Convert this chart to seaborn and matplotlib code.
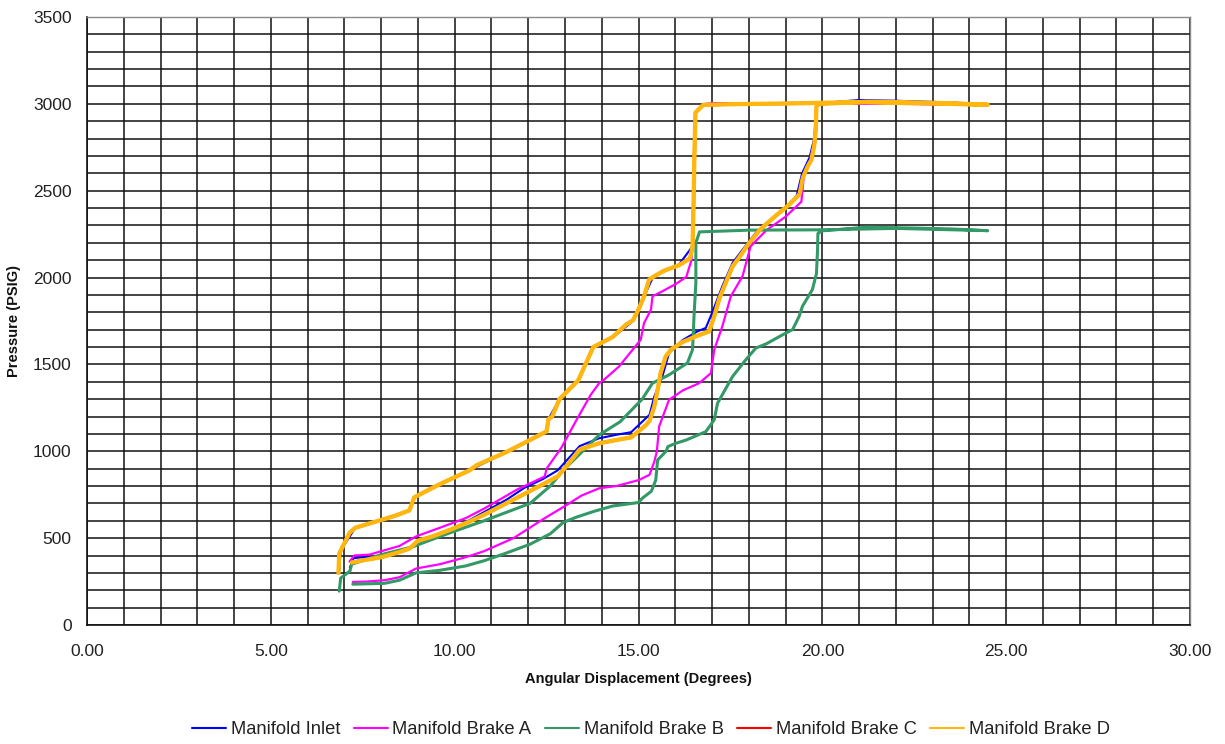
import numpy as np
import pandas as pd
import matplotlib
matplotlib.use("Agg")
import matplotlib.pyplot as plt
import seaborn as sns
from matplotlib.ticker import MultipleLocator, FormatStrFormatter

# ---- Pressure vs. angular displacement traces (loading -> hold -> unloading) ----
inlet_deg = [7.15, 7.25, 7.6, 8.0, 8.4, 8.8, 9.2, 9.6, 10.2, 10.8, 11.4, 11.9, 12.4, 12.8,
             13.1, 13.4, 13.93, 14.4, 14.8, 15.2, 15.3, 15.43, 15.65, 15.83, 16.2, 16.6,
             16.83, 17.0, 17.28, 17.56, 17.83, 18.2, 18.6, 19.0, 19.3, 19.45, 19.65, 19.78,
             19.84, 20.0, 21.0, 22.0, 23.5, 24.5, 22.0, 19.0, 16.8, 16.55, 16.5, 16.47,
             16.1, 15.4, 15.15, 14.85, 14.3, 13.77, 13.36, 12.85, 12.55, 12.5, 11.4, 10.4,
             9.59, 8.9, 8.77, 7.77, 7.3, 6.9, 6.86]
inlet_psi = [330, 385, 392, 392, 420, 445, 480, 520, 580, 650, 720, 790, 840, 890,
             960, 1030, 1075, 1095, 1110, 1190, 1210, 1315, 1431, 1565, 1640, 1690,
             1710, 1796, 1950, 2085, 2160, 2260, 2330, 2400, 2470, 2600, 2690, 2800,
             2990, 3005, 3022, 3018, 3008, 2998, 3008, 3003, 2998, 2950, 2450, 2180,
             2075, 2005, 1890, 1750, 1655, 1600, 1410, 1300, 1185, 1115, 995, 890,
             810, 735, 660, 590, 560, 430, 320]

brake_a_deg = [7.23, 7.6, 8.1, 8.5, 8.95, 9.6, 10.3, 10.8, 11.6, 12.45, 13.0, 13.45, 13.93,
               14.4, 15.02, 15.3, 15.43, 15.5, 15.56, 15.83, 16.2, 16.65, 16.97, 17.06,
               17.28, 17.51, 17.83, 18.0, 18.05, 18.48, 19.0, 19.43, 19.5, 19.7, 19.8,
               19.84, 20.0, 21.0, 22.5, 24.4, 22.0, 19.0, 17.0, 16.76, 16.55, 16.5, 16.47,
               16.44, 16.3, 16.03, 15.65, 15.38, 15.34, 15.15, 15.06, 14.47, 14.04, 13.93,
               13.7, 13.3, 12.9, 12.5, 12.45, 11.7, 10.8, 10.3, 9.6, 8.95, 8.5, 7.68,
               7.27, 7.14]
brake_a_psi = [248, 250, 258, 275, 325, 350, 390, 425, 500, 615, 685, 745, 787,
               800, 835, 865, 940, 1000, 1142, 1296, 1350, 1392, 1450, 1585,
               1719, 1892, 2008, 2142, 2180, 2273, 2350, 2437, 2590, 2680, 2800,
               2985, 3000, 3003, 3000, 2995, 3000, 3004, 3004, 2998, 2950, 2450, 2200,
               2100, 2004, 1965, 1921, 1892, 1815, 1738, 1642, 1488, 1408, 1392,
               1325, 1175, 1020, 900, 855, 780, 670, 615, 560, 510, 455, 405,
               400, 365]

brake_b_deg = [7.23, 7.6, 8.1, 8.5, 8.95, 9.6, 10.3, 10.8, 11.35, 12.05, 12.6, 12.95, 13.3,
               13.8, 14.3, 15.0, 15.1, 15.35, 15.47, 15.52, 15.75, 15.8, 16.0, 16.3, 16.83,
               17.06, 17.15, 17.56, 17.92, 18.19, 18.48, 19.0, 19.19, 19.37, 19.46, 19.73,
               19.84, 19.87, 19.88, 20.0, 21.2, 22.5, 23.5, 24.5, 22.0, 20.0, 18.0, 16.66,
               16.56, 16.56, 16.51, 16.47, 16.33, 15.83, 15.38, 15.1, 14.5, 13.93, 12.95,
               12.6, 12.05, 10.8, 9.8, 8.85, 8.0, 7.2, 7.15, 6.9, 6.86]
brake_b_psi = [235, 237, 240, 258, 300, 315, 340, 370, 410, 465, 525, 590, 620,
               655, 685, 705, 729, 770, 835, 950, 1000, 1027, 1045, 1065, 1113,
               1181, 1277, 1431, 1527, 1594, 1619, 1680, 1700, 1777, 1835, 1931,
               2023, 2160, 2254, 2269, 2290, 2285, 2280, 2270, 2283, 2275, 2273, 2263,
               2200, 1969, 1777, 1585, 1508, 1440, 1392, 1300, 1170, 1094, 890,
               800, 700, 600, 525, 450, 405, 350, 310, 270, 195]

brake_d_deg = [7.2, 7.5, 8.0, 8.5, 8.77, 9.0, 9.4, 9.9, 10.4, 10.8, 11.4, 11.9, 12.4, 12.8,
               13.1, 13.4, 13.93, 14.4, 14.8, 15.2, 15.3, 15.43, 15.52, 15.6, 15.74, 15.88,
               16.2, 16.6, 16.92, 17.06, 17.2, 17.37, 17.56, 17.75, 17.98, 18.3, 18.7, 19.1,
               19.38, 19.47, 19.6, 19.7, 19.78, 19.82, 19.84, 19.9, 20.5, 21.2, 22.5, 23.5,
               24.5, 23.0, 21.0, 19.0, 17.5, 16.76, 16.55, 16.52, 16.5, 16.47, 16.4, 16.1,
               15.7, 15.4, 15.29, 15.15, 15.02, 14.85, 14.66, 14.3, 13.77, 13.36, 12.85,
               12.65, 12.55, 12.5, 12.14, 11.4, 10.6, 10.4, 9.59, 8.9, 8.77, 8.4, 7.77,
               7.3, 7.14, 6.95, 6.86, 6.84]
brake_d_psi = [360, 372, 390, 420, 440, 485, 510, 550, 595, 635, 700, 755, 810, 855,
               930, 1010, 1046, 1065, 1080, 1150, 1175, 1258, 1354, 1450, 1546, 1585,
               1629, 1665, 1690, 1777, 1880, 1969, 2065, 2120, 2190, 2275, 2350, 2420,
               2480, 2575, 2640, 2677, 2760, 2850, 2985, 3000, 3005, 3012, 3008, 3003,
               2995, 3002, 3010, 3002, 2998, 2994, 2950, 2700, 2450, 2177, 2110, 2071,
               2040, 2004, 1988, 1892, 1825, 1754, 1729, 1658, 1600, 1408, 1300,
               1200, 1185, 1115, 1075, 995, 920, 890, 810, 735, 660, 630, 590,
               560, 530, 450, 410, 300]

# Brake C trace coincides with Brake D and sits underneath it
brake_c_deg = list(brake_d_deg)
brake_c_psi = list(brake_d_psi)

series_names = ["Manifold Inlet", "Manifold Brake A", "Manifold Brake B",
                "Manifold Brake C", "Manifold Brake D"]
series_deg = [inlet_deg, brake_a_deg, brake_b_deg, brake_c_deg, brake_d_deg]
series_psi = [inlet_psi, brake_a_psi, brake_b_psi, brake_c_psi, brake_d_psi]
series_colors = ["#0000FF", "#FF00FF", "#339966", "#FF0000", "#FFB60F"]
series_widths = [1.5, 1.6, 2.2, 2.3, 3.1]

x_ticks = [0, 5, 10, 15, 20, 25, 30]
y_ticks = [0, 500, 1000, 1500, 2000, 2500, 3000, 3500]

frames = []
for name, d, p in zip(series_names, series_deg, series_psi):
    frames.append(pd.DataFrame({"series": name, "step": np.arange(len(d)),
                                "deg": d, "psi": p}))
df = pd.concat(frames, ignore_index=True)

# ---- Figure ----
sns.set_style("white")
plt.rcParams["font.family"] = ["Liberation Sans", "DejaVu Sans"]

fig = plt.figure(figsize=(12.25, 7.44), dpi=100)
ax = fig.add_axes([87 / 1225, 1 - 625 / 744, (1190 - 87) / 1225, (625 - 17) / 744])

for name, color, lw in zip(series_names, series_colors, series_widths):
    sub = df[df["series"] == name]
    sns.lineplot(data=sub, x="deg", y="psi", sort=False, estimator=None,
                 color=color, linewidth=lw, label=name, ax=ax,
                 solid_capstyle="round", solid_joinstyle="round", legend=False)

ax.set_xlim(0, 30)
ax.set_ylim(0, 3500)
ax.set_xticks(x_ticks)
ax.set_yticks(y_ticks)
ax.xaxis.set_minor_locator(MultipleLocator(1))
ax.yaxis.set_minor_locator(MultipleLocator(100))
ax.xaxis.set_major_formatter(FormatStrFormatter("%.2f"))
ax.set_axisbelow(True)
ax.grid(which="both", color="#111111", linewidth=1.1)
ax.tick_params(axis="both", which="major", direction="out", length=5, width=1.1,
               color="#111111", labelsize=12.5, labelcolor="#222222")
ax.tick_params(axis="x", which="major", pad=9)
ax.tick_params(axis="y", which="major", pad=6)
ax.tick_params(which="minor", length=0)

for side in ["left", "bottom"]:
    ax.spines[side].set_color("#111111")
    ax.spines[side].set_linewidth(1.2)
for side in ["top", "right"]:
    ax.spines[side].set_color("#8a8a8a")
    ax.spines[side].set_linewidth(1.0)

ax.set_xlabel("Angular Displacement (Degrees)", fontsize=10.5, fontweight="bold",
              color="#111111", va="center")
ax.xaxis.set_label_coords(0.5, -(679 - 625) / 608)
ax.set_ylabel("Pressure (PSIG)", fontsize=10.5, fontweight="bold",
              color="#111111", va="center")
ax.yaxis.set_label_coords(-(87 - 14) / 1103, 0.5)

handles, labels = ax.get_legend_handles_labels()
leg = fig.legend(handles, labels, loc="center", bbox_to_anchor=(651 / 1225, 14 / 744),
                 ncol=5, frameon=False, fontsize=13.2, handlelength=1.85,
                 handletextpad=0.25, columnspacing=0.75)
for line in leg.get_lines():
    line.set_linewidth(1.5)
for txt in leg.get_texts():
    txt.set_color("#222222")

fig.savefig("out.png", dpi=100)
